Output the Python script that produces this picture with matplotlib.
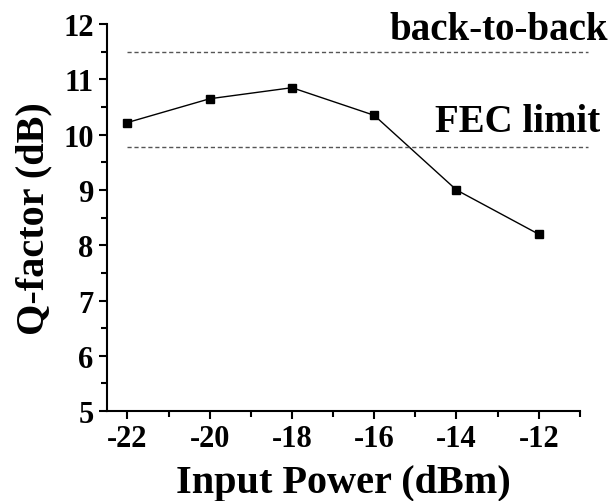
import matplotlib.pyplot as plt
from matplotlib.ticker import MultipleLocator

# data
power = [-22, -20, -18, -16, -14, -12]
qfactor = [10.22, 10.65, 10.85, 10.35, 9.0, 8.2]
b2b_level = 11.5
fec_level = 9.78

plt.rcParams['font.family'] = ['Liberation Serif', 'DejaVu Serif']
plt.rcParams['font.weight'] = 'bold'

fig = plt.figure(figsize=(6.11, 5.02), dpi=100)
ax = fig.add_axes([0.175, 0.179, 0.774, 0.771])

ax.plot(power, qfactor, color='black', lw=1, marker='s', ms=6)

# reference lines
ax.plot([-22, -10.8], [b2b_level, b2b_level], ls=(0, (3, 2)), color='#555555', lw=1, clip_on=False)
ax.plot([-22, -10.8], [fec_level, fec_level], ls=(0, (3, 2)), color='#555555', lw=1, clip_on=False)
fig.text(0.995, 0.94, 'back-to-back', ha='right', va='center', fontsize=28, fontweight='bold')
fig.text(0.983, 0.755, 'FEC limit', ha='right', va='center', fontsize=28, fontweight='bold')

ax.set_xlim(-22.5, -11)
ax.set_ylim(5, 12)
ax.xaxis.set_minor_locator(MultipleLocator(1))
ax.yaxis.set_major_locator(MultipleLocator(1))
ax.yaxis.set_minor_locator(MultipleLocator(0.5))
ax.set_xticks(power)
ax.set_xticklabels([str(p) for p in power])

ax.spines['top'].set_visible(False)
ax.spines['right'].set_visible(False)
for s in ['left', 'bottom']:
    ax.spines[s].set_linewidth(1.5)
ax.tick_params(which='major', direction='out', length=6, width=1.5, labelsize=22)
ax.tick_params(which='minor', direction='out', length=4, width=1.5)

ax.set_xlabel('Input Power (dBm)', fontsize=29, fontweight='bold', labelpad=8)
ax.set_ylabel('Q-factor (dB)', fontsize=29, fontweight='bold', labelpad=8)

plt.savefig('out.png', dpi=100)
